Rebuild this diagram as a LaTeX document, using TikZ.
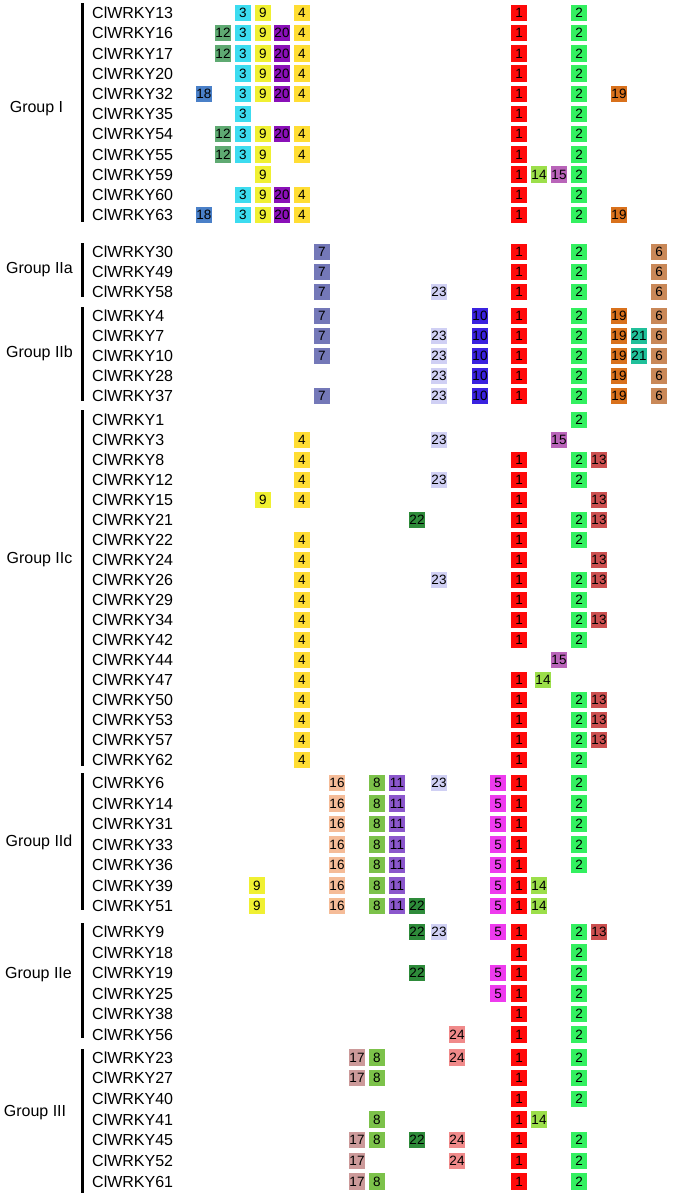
\documentclass[tikz,border=0pt]{standalone}
\usepackage{fontspec}
\setmainfont{Liberation Sans}
\definecolor{c1}{HTML}{FF0A0A}
\definecolor{c2}{HTML}{33F060}
\definecolor{c3}{HTML}{3CDCF0}
\definecolor{c4}{HTML}{FFDD33}
\definecolor{c5}{HTML}{EE3BEE}
\definecolor{c6}{HTML}{C98858}
\definecolor{c7}{HTML}{7478B8}
\definecolor{c8}{HTML}{7CC24A}
\definecolor{c9}{HTML}{F0F032}
\definecolor{c10}{HTML}{3A22E0}
\definecolor{c11}{HTML}{8B57CC}
\definecolor{c12}{HTML}{5FAA72}
\definecolor{c13}{HTML}{CC4F4F}
\definecolor{c14}{HTML}{9CDF4A}
\definecolor{c15}{HTML}{B964B9}
\definecolor{c16}{HTML}{F5BC98}
\definecolor{c17}{HTML}{CC9A9A}
\definecolor{c18}{HTML}{4A80C8}
\definecolor{c19}{HTML}{D9711C}
\definecolor{c20}{HTML}{8A10B8}
\definecolor{c21}{HTML}{20C09A}
\definecolor{c22}{HTML}{2E8B3A}
\definecolor{c23}{HTML}{D0D0F4}
\definecolor{c24}{HTML}{F08A8A}
\newcommand\setcx[2]{\expandafter\def\csname cx#1\endcsname{#2}}
\setcx{18}{204}\setcx{12}{223}\setcx{3}{243}\setcx{9}{263}\setcx{20}{282}
\setcx{4}{302}\setcx{7}{322}\setcx{16}{337}\setcx{17}{357}\setcx{8}{377}
\setcx{11}{397}\setcx{22}{417}\setcx{23}{439}\setcx{24}{457}\setcx{10}{480}
\setcx{5}{498}\setcx{1}{519}\setcx{14}{539}\setcx{15}{559}\setcx{2}{579}
\setcx{13}{599}\setcx{19}{619}\setcx{21}{639}\setcx{6}{659}
\tikzset{
 gene/.style={anchor=base west, inner sep=0pt, font=\fontsize{16}{18}\selectfont},
 grp/.style={anchor=base, inner sep=0pt, font=\fontsize{16}{18}\selectfont},
 dom/.style={minimum width=16.5pt, minimum height=16.5pt, inner sep=0pt, font=\fontsize{13.5}{15}\selectfont},
 bar/.style={line width=3pt, black}
}
\newcommand\generow[3]{%
 \node[gene] (g#1) at (92,#2+5.7) {ClWRKY#1};
 \foreach \d in {#3}{\node[dom,fill=c\d] (g#1d\d) at (\csname cx\d\endcsname,#2) {\d};}
}
\begin{document}
\begin{tikzpicture}[x=1pt,y=-1pt]
\fill[white] (0,0) rectangle (675,1200);
\useasboundingbox (0,0) rectangle (675,1200);
% bars
\draw[bar] (82,3) -- (82,222);
\draw[bar] (82,243) -- (82,297);
\draw[bar] (82,307) -- (82,401);
\draw[bar] (82,410) -- (82,766);
\draw[bar] (82,773) -- (82,910);
\draw[bar] (82,923) -- (82,1038);
\draw[bar] (82,1049) -- (82,1193);
% group labels
\node[grp] (GI) at (36.5,112.7) {Group I};
\node[grp] (GIIa) at (39.5,273.7) {Group IIa};
\node[grp] (GIIb) at (39.5,357.7) {Group IIb};
\node[grp] (GIIc) at (39.5,563.7) {Group IIc};
\node[grp] (GIId) at (39,846.7) {Group IId};
\node[grp] (GIIe) at (38.5,978.7) {Group IIe};
\node[grp] (GIII) at (35,1116.7) {Group III};
% Group I
\generow{13}{13}{3,9,4,1,2}
\generow{16}{33.2}{12,3,9,20,4,1,2}
\generow{17}{53.4}{12,3,9,20,4,1,2}
\generow{20}{73.6}{3,9,20,4,1,2}
\generow{32}{93.8}{18,3,9,20,4,1,2,19}
\generow{35}{114}{3,1,2}
\generow{54}{134.2}{12,3,9,20,4,1,2}
\generow{55}{154.4}{12,3,9,4,1,2}
\generow{59}{174.6}{9,1,14,15,2}
\generow{60}{194.8}{3,9,20,4,1,2}
\generow{63}{215}{18,3,9,20,4,1,2,19}
% Group IIa
\generow{30}{252}{7,1,2,6}
\generow{49}{272}{7,1,2,6}
\generow{58}{292}{7,23,1,2,6}
% Group IIb
\generow{4}{316}{7,10,1,2,19,6}
\generow{7}{336}{7,23,10,1,2,19,21,6}
\generow{10}{356}{7,23,10,1,2,19,21,6}
\generow{28}{376}{23,10,1,2,19,6}
\generow{37}{396}{7,23,10,1,2,19,6}
% Group IIc
\generow{1}{420}{2}
\generow{3}{440}{4,23,15}
\generow{8}{460}{4,1,2,13}
\generow{12}{480}{4,23,1,2}
\generow{15}{500}{9,4,1,13}
\generow{21}{520}{22,1,2,13}
\generow{22}{540}{4,1,2}
\generow{24}{560}{4,1,13}
\generow{26}{580}{4,23,1,2,13}
\generow{29}{600}{4,1,2}
\generow{34}{620}{4,1,2,13}
\generow{42}{640}{4,1,2}
\generow{44}{660}{4,15}
\generow{47}{680}{4,1}
\node[dom,fill=c14] (g47d14) at (543,680) {14};
\generow{50}{700}{4,1,2,13}
\generow{53}{720}{4,1,2,13}
\generow{57}{740}{4,1,2,13}
\generow{62}{760}{4,1,2}
% Group IId
\generow{6}{783}{16,8,11,23,5,1,2}
\generow{14}{803.5}{16,8,11,5,1,2}
\generow{31}{824}{16,8,11,5,1,2}
\generow{33}{844.5}{16,8,11,5,1,2}
\generow{36}{865}{16,8,11,5,1,2}
\generow{39}{885.5}{16,8,11,5,1,14}
\node[dom,fill=c9] (g39d9) at (257,885.5) {9};
\generow{51}{906}{16,8,11,22,5,1,14}
\node[dom,fill=c9] (g51d9) at (257,906) {9};
% Group IIe
\generow{9}{932}{22,23,5,1,2,13}
\generow{18}{952.5}{1,2}
\generow{19}{973}{22,5,1,2}
\generow{25}{993.5}{5,1,2}
\generow{38}{1014}{1,2}
\generow{56}{1034.5}{24,1,2}
% Group III
\generow{23}{1057.5}{17,8,24,1,2}
\generow{27}{1078}{17,8,1,2}
\generow{40}{1099}{1,2}
\generow{41}{1119.5}{8,1,14}
\generow{45}{1140}{17,8,22,24,1,2}
\generow{52}{1161}{17,24,1,2}
\generow{61}{1181.5}{17,8,1,2}
\end{tikzpicture}
\end{document}
